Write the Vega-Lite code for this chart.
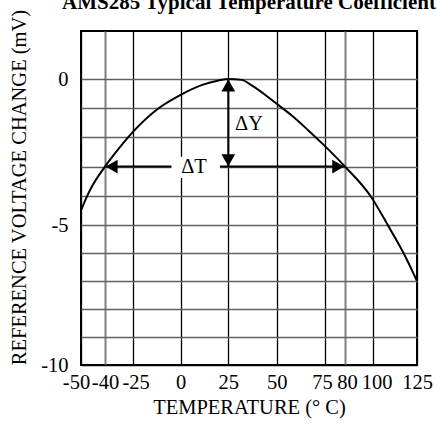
{
  "$schema": "https://vega.github.io/schema/vega-lite/v6.json",
  "width": 336,
  "height": 334,
  "autosize": {"type": "none"},
  "padding": {"left": 81, "top": 31, "right": 20, "bottom": 59},
  "background": "white",
  "title": {
    "text": "AMS285 Typical Temperature Coefficient",
    "font": "'Liberation Serif', 'Times New Roman', serif",
    "fontSize": 21,
    "fontWeight": "bold",
    "color": "black",
    "anchor": "middle",
    "offset": -4
  },
  "config": {
    "view": {"stroke": "black", "strokeWidth": 2},
    "font": "'Liberation Serif', 'Times New Roman', serif"
  },
  "datasets": {
    "curve": [
      {"t": -50, "v": -4.5},
      {"t": -47.4, "v": -4.0},
      {"t": -45.5, "v": -3.69},
      {"t": -40, "v": -3.0},
      {"t": -33, "v": -2.42},
      {"t": -25, "v": -1.82},
      {"t": -11.5, "v": -1.0},
      {"t": 0, "v": -0.54},
      {"t": 11.3, "v": -0.2},
      {"t": 19.9, "v": -0.05},
      {"t": 25, "v": 0},
      {"t": 31.9, "v": -0.03},
      {"t": 37.1, "v": -0.22},
      {"t": 50, "v": -0.85},
      {"t": 57.8, "v": -1.25},
      {"t": 66.4, "v": -1.76},
      {"t": 75, "v": -2.3},
      {"t": 80, "v": -3.0},
      {"t": 98.3, "v": -4.0},
      {"t": 108.5, "v": -5.0},
      {"t": 117.4, "v": -6.0},
      {"t": 125, "v": -7.0}
    ],
    "arrows": [
      {"t": 25, "t2": 25, "v": 0, "v2": -3},
      {"t": -40, "t2": 80, "v": -3, "v2": -3}
    ],
    "heads": [
      {"t": 25, "v": -0.22, "dir": "up"},
      {"t": 25, "v": -2.78, "dir": "down"},
      {"t": -36.4, "v": -3, "dir": "left"},
      {"t": 78.3, "v": -3, "dir": "right"}
    ],
    "gap": [
      {"t": -4.8, "t2": 20.6, "v": -2.66, "v2": -3.39}
    ],
    "notes": [
      {"t": 35.7, "v": -1.53, "label": "ΔY"},
      {"t": 7.0, "v": -3.0, "label": "ΔT"}
    ]
  },
  "layer": [
    {
      "data": {"name": "curve"},
      "mark": {"type": "line", "color": "black", "strokeWidth": 2, "interpolate": "monotone"},
      "encoding": {
        "x": {
          "field": "t",
          "type": "quantitative",
          "scale": {
            "domain": [-50, -40, -25, 0, 25, 50, 75, 80, 100, 125],
            "range": [0, 24, 51.7, 99.7, 147.3, 195.7, 244, 264, 291.7, 336],
            "zero": false,
            "nice": false
          },
          "axis": {
            "values": [-50, -40, -25, 0, 25, 50, 75, 80, 100, 125],
            "tickCount": 50,
            "title": "TEMPERATURE (° C)",
            "grid": true,
            "gridColor": {"condition": {"test": "datum.value === -40 || datum.value === 80", "value": "#808080"}, "value": "black"},
            "gridWidth": {"condition": {"test": "datum.value === -40 || datum.value === 80", "value": 2}, "value": 1.3},
            "gridOpacity": 1,
            "ticks": false,
            "domain": false,
            "labelOverlap": false,
            "labelFlush": false,
            "labelExpr": "'' + datum.value",
            "labelOffset": {
              "condition": [
                {"test": "datum.value === -50", "value": -5},
                {"test": "datum.value === -25", "value": 3},
                {"test": "datum.value === 75", "value": -3},
                {"test": "datum.value === 80", "value": 2},
                {"test": "datum.value === 100", "value": 4}
              ],
              "value": 0
            },
            "labelFont": "'Liberation Serif', 'Times New Roman', serif",
            "labelFontSize": 20.5,
            "labelColor": "black",
            "labelPadding": 7,
            "titleFont": "'Liberation Serif', 'Times New Roman', serif",
            "titleFontSize": 20.5,
            "titleFontWeight": "normal",
            "titleColor": "black",
            "titlePadding": 5
          }
        },
        "y": {
          "field": "v",
          "type": "quantitative",
          "scale": {
            "domain": [-10, -5, 0, 1.68],
            "range": [334, 194, 48, 0],
            "zero": false,
            "nice": false
          },
          "axis": {
            "values": [-10, -9, -8, -7, -6, -5, -4, -3, -2, -1, 0],
            "tickCount": 50,
            "title": "REFERENCE VOLTAGE CHANGE (mV)",
            "grid": true,
            "gridColor": {"condition": {"test": "datum.value === -10", "value": "black"}, "value": "#606060"},
            "gridWidth": 1.3,
            "gridOpacity": 1,
            "ticks": false,
            "domain": false,
            "labelExpr": "datum.value % 5 === 0 ? '' + datum.value : ''",
            "labelFont": "'Liberation Serif', 'Times New Roman', serif",
            "labelFontSize": 20.5,
            "labelColor": "black",
            "labelPadding": 13,
            "titleFont": "'Liberation Serif', 'Times New Roman', serif",
            "titleFontSize": 20.5,
            "titleFontWeight": "normal",
            "titleColor": "black",
            "titlePadding": 11,
            "titleY": 156
          }
        }
      }
    },
    {
      "data": {"name": "arrows"},
      "mark": {"type": "rule", "color": "black", "strokeWidth": 2},
      "encoding": {
        "x": {"field": "t", "type": "quantitative"},
        "x2": {"field": "t2"},
        "y": {"field": "v", "type": "quantitative"},
        "y2": {"field": "v2"}
      }
    },
    {
      "data": {"name": "gap"},
      "mark": {"type": "rect", "color": "white"},
      "encoding": {
        "x": {"field": "t", "type": "quantitative"},
        "x2": {"field": "t2"},
        "y": {"field": "v", "type": "quantitative"},
        "y2": {"field": "v2"}
      }
    },
    {
      "data": {"name": "heads"},
      "mark": {"type": "point", "filled": true, "color": "black", "opacity": 1, "size": 190},
      "encoding": {
        "x": {"field": "t", "type": "quantitative"},
        "y": {"field": "v", "type": "quantitative"},
        "shape": {
          "field": "dir",
          "type": "nominal",
          "scale": {"domain": ["up", "down", "left", "right"], "range": ["triangle-up", "triangle-down", "triangle-left", "triangle-right"]},
          "legend": null
        }
      }
    },
    {
      "data": {"name": "notes"},
      "mark": {"type": "text", "font": "'Liberation Serif', 'Times New Roman', serif", "fontSize": 20.5, "color": "black", "align": "center", "baseline": "middle"},
      "encoding": {
        "x": {"field": "t", "type": "quantitative"},
        "y": {"field": "v", "type": "quantitative"},
        "text": {"field": "label"}
      }
    }
  ]
}
